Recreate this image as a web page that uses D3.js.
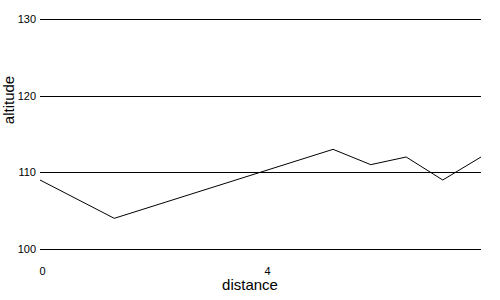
<!DOCTYPE html>
<html lang="en">
<head>
<meta charset="utf-8">
<title>altitude vs distance</title>
<script src="https://d3js.org/d3.v7.min.js"></script>
<style>
  body { margin: 0; background: #fff; font-family: Arial, "Liberation Sans", sans-serif; }
  .axis text { font-family: Arial, "Liberation Sans", sans-serif; font-size: 11px; fill: #000; }
  .axis .domain { display: none; }
  .title { font-size: 15px; fill: #000; }
</style>
</head>
<body>
<div id="vis"></div>
<script>
  // data
  const distance = [0, 1.32, 5.21, 5.88, 6.51, 7.16, 7.84];
  const altitude = [109, 104, 113, 111, 112, 109, 112];
  const yTicks = [100, 110, 120, 130];
  const xTicks = [0, 4];

  const width = 500;
  const height = 300;
  const margin = { top: 19, right: 19, bottom: 51, left: 40 };

  const svg = d3.select('#vis')
    .append('svg')
    .attr('width', width)
    .attr('height', height);

  const x = d3.scaleLinear()
    .domain([0, 7.84])
    .range([margin.left, width - margin.right]);

  const y = d3.scaleLinear()
    .domain([100, 130])
    .range([height - margin.bottom, margin.top]);

  // horizontal grid lines double as the y axis
  const yAxis = svg.append('g')
    .attr('class', 'axis')
    .attr('transform', `translate(${margin.left},0)`)
    .call(d3.axisLeft(y)
      .tickValues(yTicks)
      .tickSize(-(width - margin.left - margin.right))
      .tickPadding(4));
  yAxis.selectAll('line')
    .attr('stroke', '#000')
    .attr('shape-rendering', 'crispEdges');

  // x labels sit left-aligned at their tick, no tick marks
  const xAxis = svg.append('g')
    .attr('class', 'axis')
    .attr('transform', `translate(0,${height - margin.bottom + 18})`)
    .call(d3.axisBottom(x).tickValues(xTicks).tickSize(0).tickPadding(0));
  xAxis.selectAll('text')
    .attr('text-anchor', 'start')
    .attr('x', -1);

  const points = distance.map((d, i) => ({ d, a: altitude[i] }));

  svg.append('path')
    .datum(points)
    .attr('fill', 'none')
    .attr('stroke', '#000')
    .attr('stroke-width', 1)
    .attr('d', d3.line().x(p => x(p.d)).y(p => y(p.a)));

  // axis titles
  svg.append('text')
    .attr('class', 'title')
    .attr('x', 250)
    .attr('y', 290)
    .attr('text-anchor', 'middle')
    .text('distance');

  svg.append('text')
    .attr('class', 'title')
    .attr('transform', 'translate(14,100) rotate(-90)')
    .attr('text-anchor', 'middle')
    .text('altitude');
</script>
</body>
</html>
